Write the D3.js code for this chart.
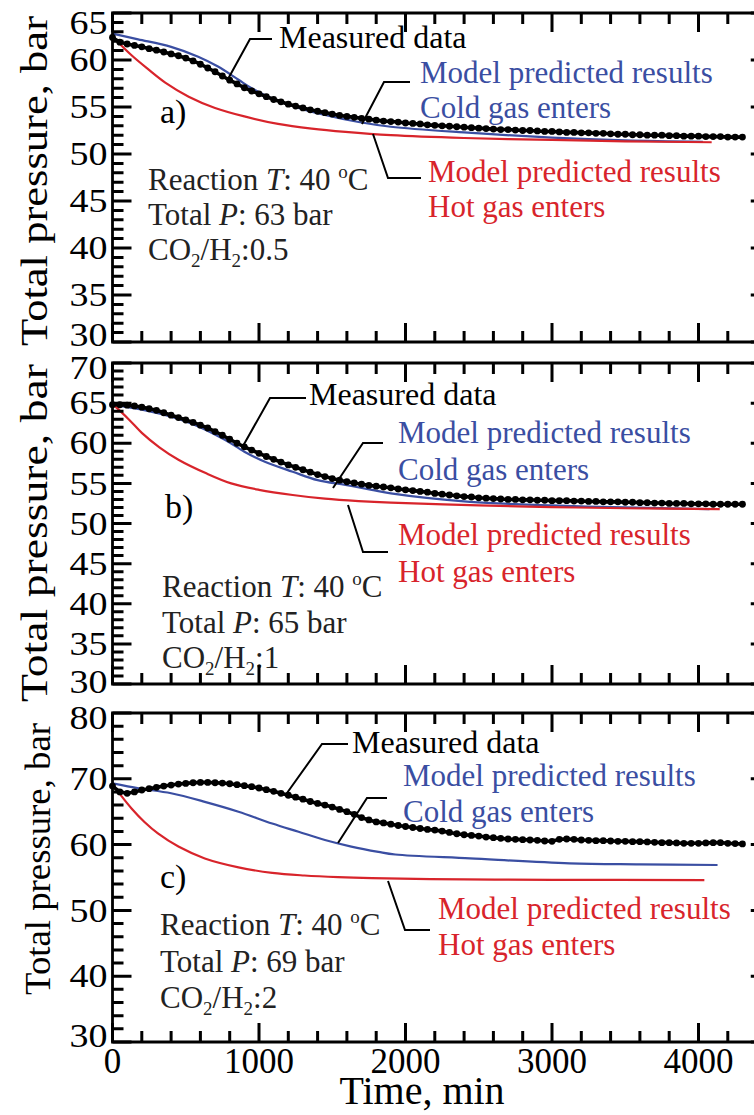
<!DOCTYPE html>
<html><head><meta charset="utf-8">
<script src="https://cdn.jsdelivr.net/npm/d3@7"></script>
<style>
body{margin:0;background:#fff}
svg text{font-family:"Liberation Serif","Times New Roman",serif}
</style>
</head><body>
<svg id="chart" width="754" height="1115" xmlns="http://www.w3.org/2000/svg"></svg>
<script>
// ---------- DATA ----------
const timeTicks = [0, 1000, 2000, 3000, 4000];
const measTime = [0,50,100,150,200,250,300,350,400,450,500,550,600,650,700,750,800,850,900,950,
 1000,1050,1100,1150,1200,1250,1300,1350,1400,1450,1500,1550,1600,1650,1700,1750,1800,1850,1900,1950,
 2000,2050,2100,2150,2200,2250,2300,2350,2400,2450,2500,2550,2600,2650,2700,2750,2800,2850,2900,2950,
 3000,3050,3100,3150,3200,3250,3300,3350,3400,3450,3500,3550,3600,3650,3700,3750,3800,3850,3900,3950,
 4000,4050,4100,4150,4200,4250,4300];

const measA = [62.4,61.9,61.7,61.55,61.4,61.2,61.05,60.85,60.65,60.45,
 60.2,59.9,59.55,59.15,58.75,58.3,57.85,57.45,57.05,56.7,
 56.4,56.1,55.8,55.55,55.3,55.1,54.9,54.7,54.55,54.4,
 54.25,54.1,54.0,53.9,53.8,53.7,53.6,53.5,53.45,53.4,
 53.3,53.25,53.2,53.1,53.05,53.0,52.95,52.9,52.85,52.8,
 52.75,52.7,52.65,52.6,52.6,52.55,52.5,52.5,52.45,52.4,
 52.4,52.35,52.3,52.3,52.25,52.25,52.2,52.2,52.15,52.1,
 52.1,52.05,52.05,52.0,52.0,52.0,51.95,51.95,51.9,51.9,
 51.9,51.85,51.85,51.85,51.8,51.8,51.8];
const measB = [64.8,64.8,64.75,64.65,64.5,64.3,64.1,63.8,63.5,63.2,
 62.9,62.6,62.25,61.9,61.45,61.0,60.5,60.0,59.55,59.15,
 58.75,58.35,58.0,57.65,57.3,57.0,56.7,56.4,56.1,55.85,
 55.6,55.4,55.2,55.05,54.9,54.75,54.65,54.55,54.45,54.3,
 54.2,54.1,54.0,53.9,53.75,53.65,53.55,53.45,53.35,53.3,
 53.2,53.15,53.1,53.05,53.0,53.0,52.95,52.95,52.9,52.9,
 52.85,52.85,52.85,52.8,52.8,52.75,52.75,52.7,52.7,52.7,
 52.65,52.65,52.6,52.6,52.55,52.55,52.5,52.5,52.5,52.45,
 52.45,52.45,52.4,52.4,52.4,52.4,52.4];
const measC = [68.9,68.0,67.8,68.0,68.3,68.5,68.7,68.9,69.05,69.2,
 69.3,69.4,69.45,69.45,69.4,69.35,69.25,69.1,68.95,68.8,
 68.6,68.35,68.1,67.8,67.5,67.2,66.9,66.55,66.25,66.0,
 65.7,65.35,65.0,64.6,64.1,63.75,63.45,63.3,63.1,62.9,
 62.75,62.6,62.45,62.3,62.2,62.05,61.85,61.65,61.5,61.4,
 61.3,61.15,61.05,60.95,60.85,60.8,60.75,60.7,60.65,60.55,
 60.5,60.8,60.85,60.8,60.7,60.65,60.6,60.6,60.55,60.5,
 60.5,60.45,60.45,60.4,60.35,60.3,60.3,60.25,60.2,60.2,
 60.2,60.25,60.3,60.3,60.2,60.15,60.1];

const coldATime = [0,175,400,585,720,860,950,1090,1270,1450,1680,1900,2400,3000,3500,4030];
const coldAVal  = [62.8,62.2,61.4,60.35,59.3,57.9,57.0,55.9,54.9,54.15,53.4,52.9,52.3,51.75,51.45,51.3];
const hotATime  = [0,130,245,360,520,700,900,1130,1360,1590,1900,2400,3000,3500,4090];
const hotAVal   = [62.5,60.5,59.0,57.6,56.1,54.9,54.0,53.2,52.7,52.35,52.0,51.7,51.5,51.35,51.25];

const coldBTime = [0,225,400,585,770,900,1040,1230,1400,1590,1770,1900,2440,3000,3500,4075];
const coldBVal  = [64.8,64.1,63.3,62.1,60.4,58.95,57.7,56.45,55.4,54.8,54.2,53.75,52.7,52.25,52.0,51.8];
const hotBTime  = [0,110,200,320,450,640,810,1000,1230,1450,1680,1900,2500,3000,3500,4145];
const hotBVal   = [64.9,63.0,61.3,59.5,57.95,56.25,55.0,54.2,53.55,53.1,52.8,52.6,52.25,52.05,51.9,51.8];

const coldCTime = [0,180,400,630,860,1090,1270,1450,1630,1815,1930,2440,3120,3600,4130];
const coldCVal  = [69.3,68.55,67.8,66.5,65.0,63.2,61.95,60.7,59.7,58.9,58.5,57.9,57.15,57.0,56.9];
const hotCTime  = [0,60,130,220,310,450,630,860,1090,1310,1540,1770,2400,3000,4040];
const hotCVal   = [69.05,67.4,65.5,63.4,61.7,59.7,57.9,56.55,55.7,55.3,55.05,54.9,54.7,54.65,54.6];

const panelLabels = ["a)", "b)", "c)"];
const totalP = ["63", "65", "69"];
const ratio = ["0.5", "1", "2"];
const yDomains = [[30,65],[30,70],[30,80]];
const yMajorStep = [5,5,10];
const yMinorStep = [1,1,2];

// ---------- LAYOUT ----------
const BLUE = "#3a4ea2", RED = "#d8242b";
const svg = d3.select("#chart");
const x = d3.scaleLinear().domain([0, 4500]).range([112.5, 771.75]);

const layout = [
  {top:13, bottom:342, labShift:{top:10, bottom:-7}, title:{x:47, y:181, len:330, fs:37},
   meas:{tx:279, ty:48, pts:[[272,39],[250,39],[228,79]]},
   cold:{tx:420, ty:[83,118], pts:[[410,82],[384,82],[362,124]]},
   hot:{tx:428, ty:[182,217], pts:[[421,178],[388,178],[373,134]]},
   lab:{x:160,y:123}, info:{x:148, y:[190,225,260]}},
  {top:363, bottom:684, labShift:{top:5, bottom:-2}, title:{x:47, y:533, len:338, fs:37},
   meas:{tx:309, ty:405, pts:[[306,398],[270,398],[243,446]]},
   cold:{tx:398, ty:[443,480], pts:[[383,443],[363,443],[333,488]]},
   hot:{tx:398, ty:[545,582], pts:[[388,552],[363,552],[348,505]]},
   lab:{x:165,y:518}, info:{x:162, y:[597,633,668]}},
  {top:713, bottom:1042, labShift:{top:5, bottom:-6}, title:{x:50, y:859, len:272, fs:35},
   meas:{tx:352, ty:753, pts:[[348,744],[322,744],[287,793]]},
   cold:{tx:403, ty:[786,822], pts:[[387,798],[367,798],[338,843]]},
   hot:{tx:438, ty:[919,955], pts:[[430,930],[405,930],[388,881]]},
   lab:{x:160,y:888}, info:{x:160, y:[935,972,1008]}}
];

const measSets = [measA, measB, measC];
const coldSets = [[coldATime,coldAVal],[coldBTime,coldBVal],[coldCTime,coldCVal]];
const hotSets  = [[hotATime,hotAVal],[hotBTime,hotBVal],[hotCTime,hotCVal]];

layout.forEach((L, i) => {
  const y = d3.scaleLinear().domain(yDomains[i]).range([L.bottom, L.top]);
  const g = svg.append("g");
  const [y0, y1] = yDomains[i];
  const yMaj = d3.range(y0, y1 + 0.001, yMajorStep[i]);
  const yMin = d3.range(y0, y1 + 0.001, yMinorStep[i]);
  const xMin = d3.range(0, 4501, 200);
  const xl = x(0), xr = x(4500);

  // y tick labels
  g.append("g").selectAll("text").data(yMaj).join("text")
    .attr("x", xl - 5)
    .attr("y", v => y(v) + (v === y1 ? L.labShift.top : v === y0 ? L.labShift.bottom : 0))
    .attr("dy","0.34em").attr("text-anchor","end").attr("font-size",33)
    .attr("textLength",38).attr("lengthAdjust","spacingAndGlyphs")
    .text(d3.format("d"));

  // x tick labels (bottom panel only)
  if (i === 2) {
    g.append("g").selectAll("text").data(timeTicks).join("text")
      .attr("x", t => x(t)).attr("y", L.bottom + 31)
      .attr("text-anchor","middle").attr("font-size",35)
      .text(d3.format("d"));
  }

  // model lines
  const mline = d3.line().x(d=>x(d[0])).y(d=>y(d[1])).curve(d3.curveCatmullRom.alpha(0.5));
  const cold = d3.zip(coldSets[i][0], coldSets[i][1]);
  const hot = d3.zip(hotSets[i][0], hotSets[i][1]);
  g.append("path").datum(cold).attr("d",mline).attr("fill","none").attr("stroke",BLUE).attr("stroke-width",2.2);
  g.append("path").datum(hot).attr("d",mline).attr("fill","none").attr("stroke",RED).attr("stroke-width",2.2);

  // measured
  const line = d3.line().x(d=>x(d[0])).y(d=>y(d[1]));
  const meas = d3.zip(measTime, measSets[i]);
  g.append("path").datum(meas).attr("d",line).attr("fill","none").attr("stroke","#000").attr("stroke-width",3.6);
  g.selectAll("circle.m").data(meas).join("circle").attr("class","m")
    .attr("cx",d=>x(d[0])).attr("cy",d=>y(d[1])).attr("r",3.4).attr("fill","#000");

  // leaders & labels
  const pl = d3.line();
  ["meas","cold","hot"].forEach(k=>{
    g.append("path").attr("d",pl(L[k].pts)).attr("fill","none").attr("stroke","#000").attr("stroke-width",2);
  });
  g.append("text").attr("x",L.meas.tx).attr("y",L.meas.ty).attr("font-size",32).attr("fill","#000").text("Measured data");
  g.append("text").attr("x",L.cold.tx).attr("y",L.cold.ty[0]).attr("font-size",31).attr("fill",BLUE).text("Model predicted results");
  g.append("text").attr("x",L.cold.tx).attr("y",L.cold.ty[1]).attr("font-size",31).attr("fill",BLUE).text("Cold gas enters");
  g.append("text").attr("x",L.hot.tx).attr("y",L.hot.ty[0]).attr("font-size",31).attr("fill",RED).text("Model predicted results");
  g.append("text").attr("x",L.hot.tx).attr("y",L.hot.ty[1]).attr("font-size",31).attr("fill",RED).text("Hot gas enters");

  g.append("text").attr("x",L.lab.x).attr("y",L.lab.y).attr("font-size",34).attr("fill","#000").text(panelLabels[i]);

  // info
  const t1 = g.append("text").attr("x",L.info.x).attr("y",L.info.y[0]).attr("font-size",31).attr("fill","#222");
  t1.append("tspan").text("Reaction ");
  t1.append("tspan").attr("font-style","italic").text("T");
  t1.append("tspan").text(": 40 ");
  t1.append("tspan").attr("font-size",19).attr("dy",-12).text("o");
  t1.append("tspan").attr("dy",12).text("C");
  const t2 = g.append("text").attr("x",L.info.x).attr("y",L.info.y[1]).attr("font-size",31).attr("fill","#222");
  t2.append("tspan").text("Total ");
  t2.append("tspan").attr("font-style","italic").text("P");
  t2.append("tspan").text(": " + totalP[i] + " bar");
  const t3 = g.append("text").attr("x",L.info.x).attr("y",L.info.y[2]).attr("font-size",31).attr("fill","#222");
  t3.append("tspan").text("CO");
  t3.append("tspan").attr("font-size",19).attr("dy",7).text("2");
  t3.append("tspan").attr("dy",-7).text("/H");
  t3.append("tspan").attr("font-size",19).attr("dy",7).text("2");
  t3.append("tspan").attr("dy",-7).text(":" + ratio[i]);

  // y title
  g.append("text").attr("transform",`translate(${L.title.x},${L.title.y}) rotate(-90)`)
    .attr("text-anchor","middle").attr("font-size",L.title.fs)
    .attr("textLength",L.title.len).attr("lengthAdjust","spacingAndGlyphs")
    .attr("fill","#000").text("Total pressure, bar");

  // frame + inward ticks on all four sides, drawn last
  const segs = [];
  const seg = (a, b, c, d) => segs.push(`M${a},${b}L${c},${d}`);
  xMin.forEach(t => { seg(x(t), L.bottom, x(t), L.bottom - 11); seg(x(t), L.top, x(t), L.top + 11); });
  timeTicks.forEach(t => { seg(x(t), L.bottom, x(t), L.bottom - 19); seg(x(t), L.top, x(t), L.top + 19); });
  yMin.forEach(v => { seg(xl, y(v), xl + 11, y(v)); seg(xr, y(v), xr - 11, y(v)); });
  yMaj.forEach(v => { seg(xl, y(v), xl + 19, y(v)); seg(xr, y(v), xr - 21, y(v)); });
  g.append("path").attr("d", segs.join("")).attr("fill","none")
    .attr("stroke","#000").attr("stroke-width",3).attr("stroke-linecap","butt");
  g.append("path")
    .attr("d", `M${xl},${L.top}H${xr}V${L.bottom}H${xl}Z`)
    .attr("fill","none").attr("stroke","#000").attr("stroke-width",2.8);
});

svg.append("text").attr("x",422).attr("y",1104).attr("text-anchor","middle")
  .attr("font-size",40).attr("fill","#000").text("Time, min");
</script>
</body></html>
